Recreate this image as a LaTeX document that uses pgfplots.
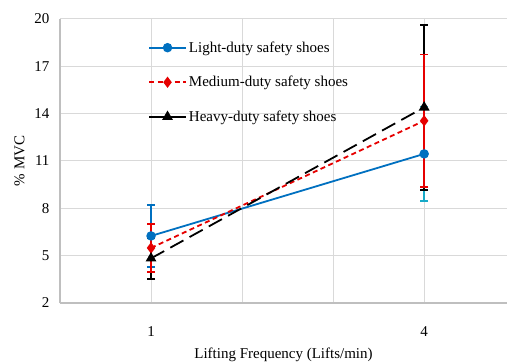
\documentclass[border=0pt]{standalone}
\usepackage{fontspec}
\setmainfont{Liberation Serif}
\usepackage{pgfplots}
\pgfplotsset{compat=1.18}
\definecolor{lblue}{RGB}{0,112,192}
\definecolor{lcyan}{RGB}{23,170,200}
\definecolor{mred}{RGB}{230,0,0}
\definecolor{gridc}{RGB}{217,217,217}
\definecolor{axc}{RGB}{191,191,191}
\begin{document}
\begin{tikzpicture}
\begin{axis}[
  name=ax,
  scale only axis,
  width=447pt, height=284pt,
  xmin=0, xmax=4.91,
  ymin=2, ymax=20,
  ytick={2,5,8,11,14,17,20},
  xtick={1,2,3,4},
  xticklabels={1,,,4},
  axis lines=left,
  axis line style={draw=axc, line width=1.2pt, -},
  xmajorgrids, ymajorgrids,
  grid style={draw=gridc, line width=1pt},
  major tick length=0pt,
  tick label style={font=\fontsize{15}{17}\selectfont},
  /pgf/number format/assume math mode=true,
  xticklabel style={yshift=-20pt},
  yticklabel style={xshift=-7pt},
  xlabel={Lifting Frequency (Lifts/min)},
  ylabel={\% MVC},
  label style={font=\fontsize{15}{17}\selectfont},
  xlabel style={yshift=-5pt},
  ylabel style={yshift=3pt},
  clip=false,
  legend style={draw=none, fill=none, at={(0.19,0.935)}, anchor=north west,
    font=\fontsize{15}{17}\selectfont, row sep=18.5pt},
  legend cell align=left,
  legend image code/.code={
    \draw[mark repeat=2,mark phase=2] plot coordinates {(0cm,0cm) (0.65cm,0cm) (1.3cm,0cm)};
  },
]
% error bars (drawn first, in stacking order)
\addplot[forget plot, only marks, mark=none, lblue, line width=1.8pt,
  error bars/.cd, y dir=both, y explicit,
  error bar style={line width=1.8pt, lblue},
  error mark options={line width=1.8pt, mark size=4pt, rotate=90, lblue}]
  coordinates {(1,6.25) +- (0,1.95)};
\addplot[forget plot, only marks, mark=none, lcyan, line width=1.8pt,
  error bars/.cd, y dir=both, y explicit,
  error bar style={line width=1.8pt, lcyan},
  error mark options={line width=1.8pt, mark size=4pt, rotate=90, lcyan}]
  coordinates {(4,11.45) +- (0,3.0)};
\addplot[forget plot, only marks, mark=none, black, line width=1.8pt,
  error bars/.cd, y dir=both, y explicit,
  error bar style={line width=1.8pt, black},
  error mark options={line width=1.8pt, mark size=4pt, rotate=90, black}]
  coordinates {(1,4.83) +- (0,1.3) (4,14.4) +- (0,5.22)};
\addplot[forget plot, only marks, mark=none, mred, line width=1.8pt,
  error bars/.cd, y dir=both, y explicit,
  error bar style={line width=1.8pt, mred},
  error mark options={line width=1.8pt, mark size=4pt, rotate=90, mred}]
  coordinates {(1,5.49) +- (0,1.54) (4,13.55) +- (0,4.2)};
% lines
\addplot[lblue, line width=1.8pt, mark=*, mark size=3.8pt, mark options={solid, fill=lblue}]
  coordinates {(1,6.25) (4,11.45)};
\addlegendentry{Light-duty safety shoes}
\addplot[mred, line width=1.8pt, dash pattern=on 5pt off 3.5pt, mark=diamond*, mark size=4.2pt, mark options={solid, fill=mred}]
  coordinates {(1,5.49) (4,13.55)};
\addlegendentry{Medium-duty safety shoes}
\addplot[black, line width=1.8pt, dash pattern=on 15pt off 7pt, mark=triangle*, mark size=4.5pt, mark options={solid, fill=black}]
  coordinates {(1,4.83) (4,14.4)};
\addlegendentry{Heavy-duty safety shoes}
\end{axis}
\pgfresetboundingbox
\path[use as bounding box] ([xshift=-60pt,yshift=-60pt]ax.south west) rectangle ([yshift=19pt]ax.north east);
\end{tikzpicture}
\end{document}
